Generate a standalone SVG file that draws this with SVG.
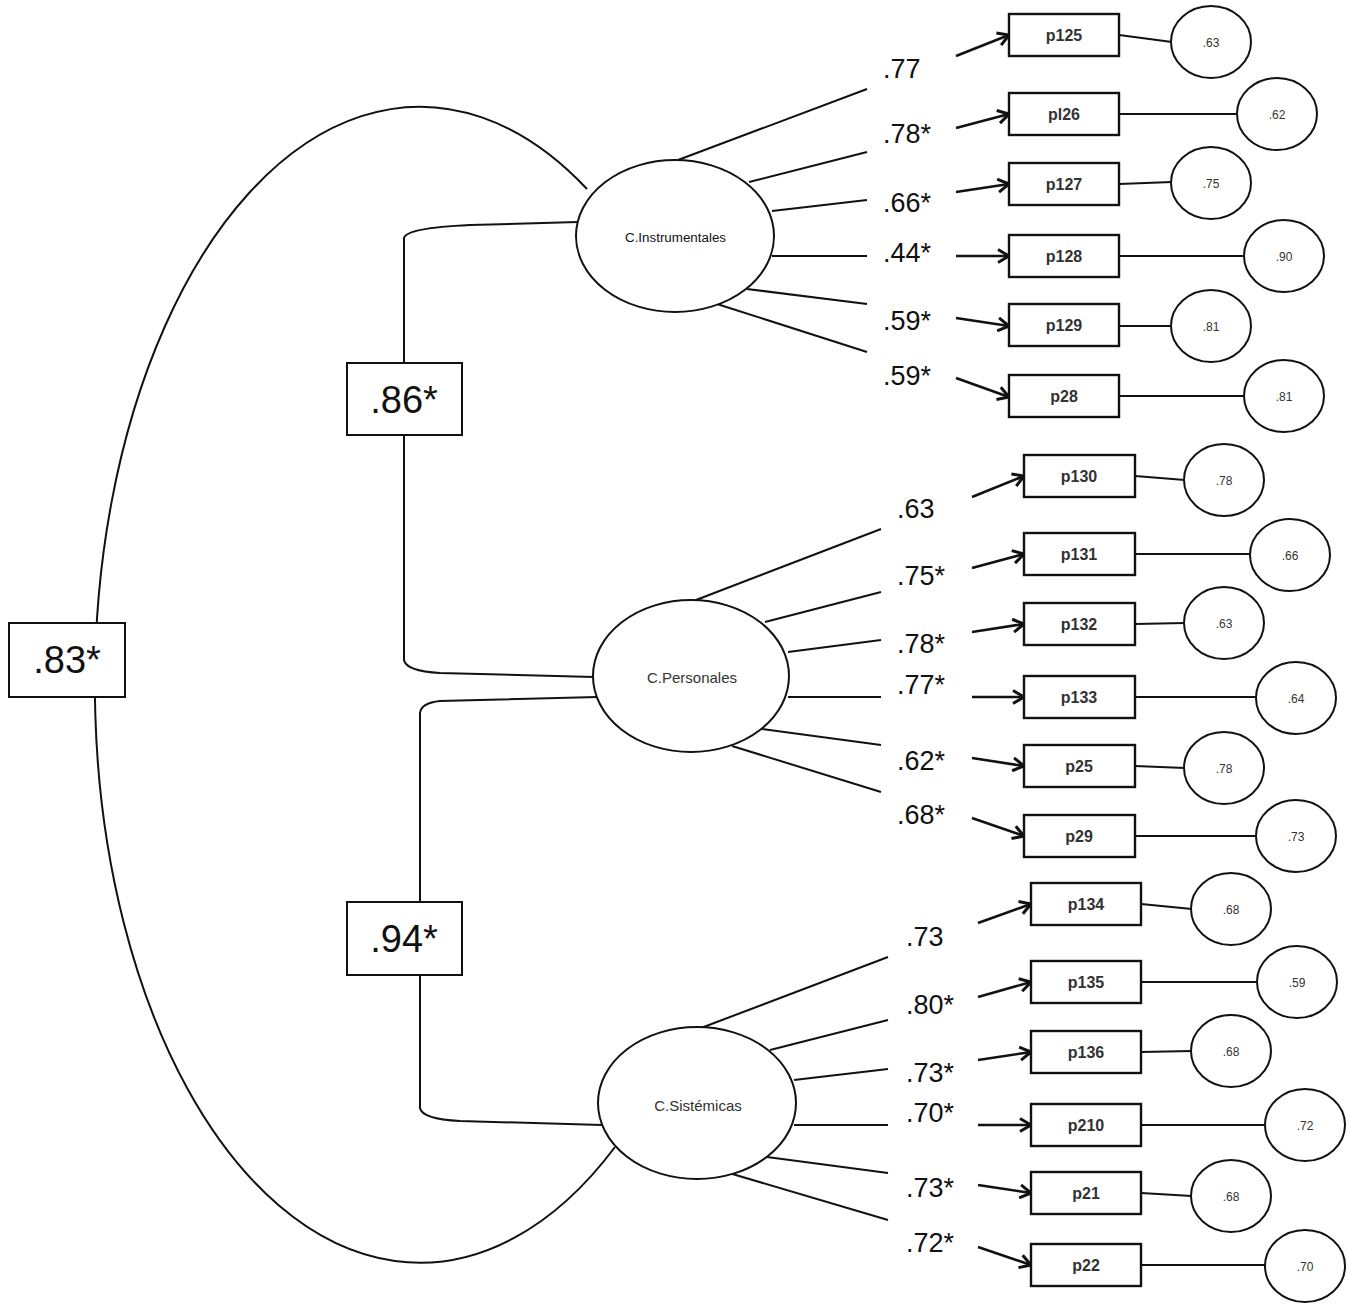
<svg xmlns="http://www.w3.org/2000/svg" width="1347" height="1306" viewBox="0 0 1347 1306">
<style>
  .ln{stroke:#111;stroke-width:2;fill:none}
  .ar{stroke:#111;stroke-width:2.6;fill:none;marker-end:url(#arr)}
  .lat{fill:#fff;stroke:#111;stroke-width:2}
  .box{fill:#fff;stroke:#111;stroke-width:2.4}
  .err{fill:#fff;stroke:#111;stroke-width:2}
  .big{fill:#fff;stroke:#111;stroke-width:2}
  .t{font-family:"Liberation Sans","DejaVu Sans",sans-serif;fill:#111}
  .lab{font-size:27px}
  .bigt{font-size:38px;text-anchor:middle}
  .bt{font-size:16px;text-anchor:middle;font-weight:bold;fill:#333}
  .ct{font-size:12px;text-anchor:middle;fill:#333}
  .lt{font-size:15px;text-anchor:middle;fill:#333}
</style>
<defs>
  <marker id="arr" viewBox="0 0 14 16" refX="12.5" refY="8" markerWidth="14" markerHeight="16" markerUnits="userSpaceOnUse" orient="auto">
    <path d="M1.5,1.5 L12.5,8 L1.5,14.5" fill="none" stroke="#111" stroke-width="3" stroke-linejoin="miter"/>
  </marker>
</defs>

<g id="connectors">
  <path class="ln" d="M587,189 A325,578 0 1 0 615,1147"/>
  <path class="ln" d="M578,222 L470,225 Q406,228 404,238 L404,363"/>
  <path class="ln" d="M404,435 L404,660 Q406,671 440,673 L594,677"/>
  <path class="ln" d="M597,697 L440,701 Q421,703 420,713 L420,902"/>
  <path class="ln" d="M420,975 L420,1108 Q422,1119 460,1121 L602,1125"/>

  <line class="ln" x1="678" y1="160" x2="867" y2="89"/>
  <line class="ln" x1="749" y1="182" x2="867" y2="152"/>
  <line class="ln" x1="772" y1="211" x2="867" y2="200"/>
  <line class="ln" x1="772" y1="256" x2="867" y2="256"/>
  <line class="ln" x1="747" y1="289" x2="867" y2="304"/>
  <line class="ln" x1="717" y1="304" x2="867" y2="352"/>

  <line class="ln" x1="696" y1="600" x2="881" y2="529"/>
  <line class="ln" x1="765" y1="622" x2="881" y2="592"/>
  <line class="ln" x1="788" y1="652" x2="881" y2="640"/>
  <line class="ln" x1="788" y1="697" x2="881" y2="697"/>
  <line class="ln" x1="762" y1="729" x2="881" y2="745"/>
  <line class="ln" x1="732" y1="746" x2="881" y2="792"/>

  <line class="ln" x1="701" y1="1028" x2="888" y2="957"/>
  <line class="ln" x1="770" y1="1050" x2="888" y2="1020"/>
  <line class="ln" x1="794" y1="1080" x2="888" y2="1069"/>
  <line class="ln" x1="794" y1="1125" x2="888" y2="1125"/>
  <line class="ln" x1="767" y1="1157" x2="888" y2="1173"/>
  <line class="ln" x1="729" y1="1173" x2="888" y2="1220"/>

  <line class="ar" x1="956" y1="56" x2="1009" y2="35"/>
  <line class="ar" x1="956" y1="128" x2="1009" y2="114"/>
  <line class="ar" x1="956" y1="192" x2="1009" y2="184"/>
  <line class="ar" x1="956" y1="256" x2="1009" y2="256"/>
  <line class="ar" x1="956" y1="318" x2="1009" y2="326"/>
  <line class="ar" x1="956" y1="378" x2="1009" y2="397"/>

  <line class="ar" x1="972" y1="497" x2="1024" y2="476"/>
  <line class="ar" x1="972" y1="568" x2="1024" y2="554"/>
  <line class="ar" x1="972" y1="632" x2="1024" y2="624"/>
  <line class="ar" x1="972" y1="697" x2="1024" y2="697"/>
  <line class="ar" x1="972" y1="758" x2="1024" y2="766"/>
  <line class="ar" x1="972" y1="818" x2="1024" y2="836"/>

  <line class="ar" x1="978" y1="923" x2="1031" y2="904"/>
  <line class="ar" x1="978" y1="997" x2="1031" y2="982"/>
  <line class="ar" x1="978" y1="1060" x2="1031" y2="1052"/>
  <line class="ar" x1="978" y1="1125" x2="1031" y2="1125"/>
  <line class="ar" x1="978" y1="1185" x2="1031" y2="1193"/>
  <line class="ar" x1="978" y1="1247" x2="1031" y2="1265"/>

  <line class="ln" x1="1119" y1="35" x2="1172" y2="42"/>
  <line class="ln" x1="1119" y1="114" x2="1238" y2="114"/>
  <line class="ln" x1="1119" y1="184" x2="1172" y2="182"/>
  <line class="ln" x1="1119" y1="256" x2="1245" y2="256"/>
  <line class="ln" x1="1119" y1="326" x2="1172" y2="326"/>
  <line class="ln" x1="1119" y1="396" x2="1245" y2="396"/>

  <line class="ln" x1="1135" y1="476" x2="1185" y2="480"/>
  <line class="ln" x1="1135" y1="554" x2="1251" y2="554"/>
  <line class="ln" x1="1135" y1="624" x2="1185" y2="623"/>
  <line class="ln" x1="1135" y1="697" x2="1257" y2="697"/>
  <line class="ln" x1="1135" y1="766" x2="1185" y2="768"/>
  <line class="ln" x1="1135" y1="836" x2="1257" y2="836"/>

  <line class="ln" x1="1141" y1="904" x2="1192" y2="909"/>
  <line class="ln" x1="1141" y1="982" x2="1258" y2="982"/>
  <line class="ln" x1="1141" y1="1052" x2="1192" y2="1051"/>
  <line class="ln" x1="1141" y1="1125" x2="1266" y2="1125"/>
  <line class="ln" x1="1141" y1="1193" x2="1192" y2="1196"/>
  <line class="ln" x1="1141" y1="1265" x2="1266" y2="1265"/>
</g>

<g id="loadings" class="t lab">
  <text x="883" y="78">.77</text>
  <text x="883" y="143">.78*</text>
  <text x="883" y="212">.66*</text>
  <text x="883" y="262">.44*</text>
  <text x="883" y="330">.59*</text>
  <text x="883" y="385">.59*</text>
  <text x="897" y="518">.63</text>
  <text x="897" y="585">.75*</text>
  <text x="897" y="653">.78*</text>
  <text x="897" y="694">.77*</text>
  <text x="897" y="770">.62*</text>
  <text x="897" y="824">.68*</text>
  <text x="906" y="946">.73</text>
  <text x="906" y="1014">.80*</text>
  <text x="906" y="1082">.73*</text>
  <text x="906" y="1122">.70*</text>
  <text x="906" y="1197">.73*</text>
  <text x="906" y="1252">.72*</text>
</g>

<g id="corr-83"><rect class="big" x="9" y="623" width="116" height="74"/><text class="t bigt" x="67" y="673">.83*</text></g>
<g id="corr-86"><rect class="big" x="347" y="363" width="115" height="72"/><text class="t bigt" x="404" y="413">.86*</text></g>
<g id="corr-94"><rect class="big" x="347" y="902" width="115" height="73"/><text class="t bigt" x="404" y="952">.94*</text></g>

<g id="C-Instrumentales"><ellipse class="lat" cx="675" cy="236" rx="99" ry="76"/><text class="t" x="625" y="242" font-size="12" textLength="101" lengthAdjust="spacingAndGlyphs" fill="#333">C.Instrumentales</text></g>
<g id="C-Personales"><ellipse class="lat" cx="691" cy="676" rx="98" ry="76"/><text class="t lt" x="692" y="683">C.Personales</text></g>
<g id="C-Sistemicas"><ellipse class="lat" cx="697" cy="1103" rx="99" ry="76"/><text class="t lt" x="698" y="1111">C.Sistémicas</text></g>

<g id="p125"><rect class="box" x="1009" y="14" width="110" height="42"/><text class="t bt" x="1064" y="41">p125</text></g>
<g id="p126"><rect class="box" x="1009" y="93" width="110" height="42"/><text class="t bt" x="1064" y="120">pl26</text></g>
<g id="p127"><rect class="box" x="1009" y="163" width="110" height="42"/><text class="t bt" x="1064" y="190">p127</text></g>
<g id="p128"><rect class="box" x="1009" y="235" width="110" height="42"/><text class="t bt" x="1064" y="262">p128</text></g>
<g id="p129"><rect class="box" x="1009" y="304" width="110" height="42"/><text class="t bt" x="1064" y="331">p129</text></g>
<g id="p28"><rect class="box" x="1009" y="375" width="110" height="42"/><text class="t bt" x="1064" y="402">p28</text></g>

<g id="p130"><rect class="box" x="1024" y="455" width="111" height="42"/><text class="t bt" x="1079" y="482">p130</text></g>
<g id="p131"><rect class="box" x="1024" y="533" width="111" height="42"/><text class="t bt" x="1079" y="560">p131</text></g>
<g id="p132"><rect class="box" x="1024" y="603" width="111" height="42"/><text class="t bt" x="1079" y="630">p132</text></g>
<g id="p133"><rect class="box" x="1024" y="676" width="111" height="42"/><text class="t bt" x="1079" y="703">p133</text></g>
<g id="p25"><rect class="box" x="1024" y="745" width="111" height="42"/><text class="t bt" x="1079" y="772">p25</text></g>
<g id="p29"><rect class="box" x="1024" y="815" width="111" height="42"/><text class="t bt" x="1079" y="842">p29</text></g>

<g id="p134"><rect class="box" x="1031" y="883" width="110" height="42"/><text class="t bt" x="1086" y="910">p134</text></g>
<g id="p135"><rect class="box" x="1031" y="961" width="110" height="42"/><text class="t bt" x="1086" y="988">p135</text></g>
<g id="p136"><rect class="box" x="1031" y="1031" width="110" height="42"/><text class="t bt" x="1086" y="1058">p136</text></g>
<g id="p210"><rect class="box" x="1031" y="1104" width="110" height="42"/><text class="t bt" x="1086" y="1131">p210</text></g>
<g id="p21"><rect class="box" x="1031" y="1172" width="110" height="42"/><text class="t bt" x="1086" y="1199">p21</text></g>
<g id="p22"><rect class="box" x="1031" y="1244" width="110" height="42"/><text class="t bt" x="1086" y="1271">p22</text></g>

<g id="e-p125"><ellipse class="err" cx="1211" cy="42" rx="40" ry="36"/><text class="t ct" x="1211" y="47">.63</text></g>
<g id="e-p126"><ellipse class="err" cx="1277" cy="114" rx="40" ry="36"/><text class="t ct" x="1277" y="119">.62</text></g>
<g id="e-p127"><ellipse class="err" cx="1211" cy="183" rx="40" ry="36"/><text class="t ct" x="1211" y="188">.75</text></g>
<g id="e-p128"><ellipse class="err" cx="1284" cy="256" rx="40" ry="36"/><text class="t ct" x="1284" y="261">.90</text></g>
<g id="e-p129"><ellipse class="err" cx="1211" cy="326" rx="40" ry="36"/><text class="t ct" x="1211" y="331">.81</text></g>
<g id="e-p28"><ellipse class="err" cx="1284" cy="396" rx="40" ry="36"/><text class="t ct" x="1284" y="401">.81</text></g>

<g id="e-p130"><ellipse class="err" cx="1224" cy="480" rx="40" ry="36"/><text class="t ct" x="1224" y="485">.78</text></g>
<g id="e-p131"><ellipse class="err" cx="1290" cy="555" rx="40" ry="36"/><text class="t ct" x="1290" y="560">.66</text></g>
<g id="e-p132"><ellipse class="err" cx="1224" cy="623" rx="40" ry="36"/><text class="t ct" x="1224" y="628">.63</text></g>
<g id="e-p133"><ellipse class="err" cx="1296" cy="698" rx="40" ry="36"/><text class="t ct" x="1296" y="703">.64</text></g>
<g id="e-p25"><ellipse class="err" cx="1224" cy="768" rx="40" ry="36"/><text class="t ct" x="1224" y="773">.78</text></g>
<g id="e-p29"><ellipse class="err" cx="1296" cy="836" rx="40" ry="36"/><text class="t ct" x="1296" y="841">.73</text></g>

<g id="e-p134"><ellipse class="err" cx="1231" cy="909" rx="40" ry="36"/><text class="t ct" x="1231" y="914">.68</text></g>
<g id="e-p135"><ellipse class="err" cx="1297" cy="982" rx="40" ry="36"/><text class="t ct" x="1297" y="987">.59</text></g>
<g id="e-p136"><ellipse class="err" cx="1231" cy="1051" rx="40" ry="36"/><text class="t ct" x="1231" y="1056">.68</text></g>
<g id="e-p210"><ellipse class="err" cx="1305" cy="1125" rx="40" ry="36"/><text class="t ct" x="1305" y="1130">.72</text></g>
<g id="e-p21"><ellipse class="err" cx="1231" cy="1196" rx="40" ry="36"/><text class="t ct" x="1231" y="1201">.68</text></g>
<g id="e-p22"><ellipse class="err" cx="1305" cy="1266" rx="40" ry="36"/><text class="t ct" x="1305" y="1271">.70</text></g>
</svg>
